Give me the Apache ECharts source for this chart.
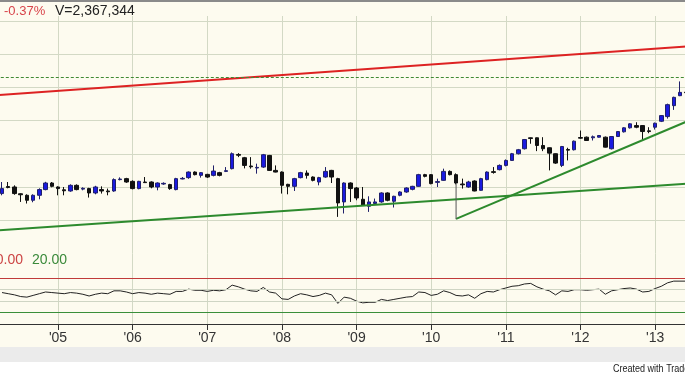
<!DOCTYPE html>
<html><head><meta charset="utf-8">
<script src="https://cdn.jsdelivr.net/npm/echarts@6/dist/echarts.min.js"></script>
<style>html,body{margin:0;padding:0;background:#fff;overflow:hidden;width:685px;height:375px}
#c{position:absolute;left:-5px;top:0;width:692px;height:375px}</style>
</head><body><div id="c"></div><script>
// Monthly categories: Mar 2004 .. Jun 2013 (first category is an empty lead-in)
const firstYear = 2004, firstMonth = 3, monthCount = 112;
const months = [];
for (let k = 0; k < monthCount; k++) {
  const m = firstMonth - 1 + k;
  months.push((firstYear + Math.floor(m / 12)) + '-' + String(m % 12 + 1).padStart(2, '0'));
}
// OHLC values from Apr 2004 to Jun 2013
const opens = [34.01,35.07,35.00,33.98,33.75,33.00,33.75,34.61,35.60,
 35.00,34.58,34.40,35.25,34.68,34.76,34.10,34.61,34.40,34.40,36.11,36.26,
 35.85,34.76,35.75,35.75,35.00,35.45,35.36,34.61,36.21,36.41,37.25,36.75,
 36.90,36.75,37.16,37.35,37.76,39.90,39.41,38.16,37.86,38.00,39.75,37.50,
 37.25,35.40,35.10,36.41,37.10,36.50,35.75,36.50,37.50,36.26,32.75,35.60,
 34.85,33.15,32.10,32.51,32.75,34.10,32.85,33.75,34.25,34.65,35.10,36.86,
 36.86,35.70,36.00,37.35,36.86,35.45,35.00,35.90,34.50,36.11,37.31,37.61,
 38.25,39.00,40.01,40.76,42.41,42.41,41.25,40.91,40.01,38.25,40.65,40.61,
 42.45,42.50,42.41,42.50,42.50,40.76,42.60,43.31,43.91,44.25,44.25,43.46,
 44.00,44.90,45.60,47.25,48.75,49.28];
const closes = [34.76,34.92,34.01,33.83,33.00,33.75,34.61,35.60,35.10,
 34.76,34.43,35.25,34.61,34.80,34.10,35.00,34.40,34.28,36.11,36.20,35.75,
 34.76,35.85,35.66,35.00,35.60,35.55,34.76,36.26,36.30,37.25,36.86,37.16,
 36.50,37.40,36.75,37.46,40.01,39.78,38.25,38.04,37.95,39.86,37.50,37.25,
 35.25,35.10,36.26,37.16,36.75,36.00,36.41,37.35,36.50,32.60,35.60,34.76,
 33.35,32.25,32.75,32.75,34.10,33.00,33.60,34.25,34.85,35.10,36.86,36.60,
 35.51,35.81,37.35,36.86,35.60,35.33,35.75,34.40,36.26,37.25,37.20,38.25,
 39.00,40.01,40.61,42.15,42.30,41.25,40.76,40.10,38.60,41.10,40.55,41.90,
 42.35,42.00,42.56,42.75,41.00,42.60,43.35,43.91,44.51,44.00,43.35,43.35,
 44.60,45.75,47.40,48.50,49.25,49.20];
const lows = [33.75,34.80,33.83,32.75,32.51,32.70,33.15,34.50,34.95,
 33.75,33.75,34.28,34.50,34.50,33.41,33.90,34.01,33.75,34.28,36.00,35.63,
 34.65,34.65,35.60,34.80,34.50,35.33,34.58,34.50,36.15,36.23,36.75,36.41,
 36.38,36.60,36.60,37.25,37.65,39.50,37.80,37.76,37.01,37.88,37.43,37.20,
 34.01,33.90,34.40,36.30,36.26,35.85,35.25,36.38,35.60,30.50,31.01,32.75,
 33.00,32.18,31.25,32.40,32.63,32.85,31.91,33.60,34.13,34.50,35.03,36.45,
 35.40,35.00,35.93,36.75,35.40,34.76,34.88,34.35,34.43,36.00,37.01,37.50,
 38.10,38.93,39.90,40.65,41.51,40.40,40.40,37.50,38.48,38.00,39.00,40.50,
 42.26,41.93,42.00,42.45,40.95,40.65,42.53,43.20,43.80,43.85,42.00,43.10,
 43.65,44.78,45.30,46.61,48.68,49.15];
const highs = [35.75,35.75,35.25,34.05,33.90,33.90,34.80,35.78,35.75,
 35.10,35.00,35.40,35.40,34.95,34.88,35.18,35.10,34.76,36.30,36.45,36.38,
 36.00,35.93,36.50,35.85,35.70,35.70,35.48,36.38,36.50,37.35,37.35,37.25,
 36.98,38.25,37.28,38.00,40.20,40.10,39.53,39.50,38.51,39.98,39.83,38.25,
 37.35,35.48,36.38,37.28,37.50,36.60,36.53,38.00,37.58,36.38,35.70,35.70,
 35.00,35.00,33.60,33.26,34.20,34.20,33.68,34.35,34.95,35.18,36.98,36.98,
 36.95,36.26,37.76,37.50,37.05,36.26,35.93,36.00,36.38,37.35,38.00,38.40,
 39.15,40.13,40.73,42.23,42.45,42.45,42.50,40.95,40.05,41.18,40.91,42.00,
 43.50,42.60,42.75,42.83,42.60,42.68,43.43,44.00,44.60,44.75,44.33,44.00,
 44.70,45.83,47.55,48.60,50.90,49.32];
// Oscillator (RSI-like) from Apr 2004 to Jun 2013
const rsi = [55,53,51,48,47,50,53,56,55,
 54,53,55,54,52,49,52,54,53,58,58,56,
 53,55,54,52,54,53,52,57,57,61,59,59,
 57,59,58,60,68,65,61,58,57,64,56,54,
 44,43,49,53,51,48,50,54,51,36,47,45,
 40,37,38,38,43,41,43,45,47,48,56,55,
 50,52,58,55,50,49,51,45,53,57,56,60,
 63,66,67,70,71,65,61,58,51,58,57,60,
 60,59,60,61,52,58,60,62,63,61,56,57,
 62,66,72,75,75,75];
// Drawn lines (month, price)
const redLine = [['2004-03', 48.81], ['2013-06', 56.15]];
const greenLongLine = [['2004-03', 28.46], ['2013-06', 35.50]];
const greenShortLine = [['2010-05', 30.19], ['2013-06', 44.82]];
const anchorLine = [['2010-05', 30.15], ['2010-05', 35.55]];
const dashedLevel = 51.53;
const oscLevels = {upper: 80, mid1: 60, mid2: 40, lower: 20};

const candleData = [null].concat(opens.map((o, i) => [o, closes[i], lows[i], highs[i]]))
  .map(d => d === null ? '-' : d);
const rsiData = ['-'].concat(rsi);

const cream = '#fdfbef';
const gridColor = '#d3d9c5';
const isJan = (idx, v) => String(v).slice(5) === '01';
const FONT = '"Liberation Sans", Arial, sans-serif';
const OX = 5; // the canvas starts 5px left of the page

const chart = echarts.init(document.getElementById('c'), null, {renderer: 'canvas'});
chart.setOption({
  backgroundColor: cream,
  animation: false,
  grid: [
    {left: 0.8, right: 0.8, top: 16, height: 237.4},
    {left: 0.8, right: 0.8, top: 253.4, height: 70.6}
  ],
  xAxis: [
    {type: 'category', gridIndex: 0, data: months, boundaryGap: false,
     axisLine: {show: false}, axisTick: {show: false}, axisLabel: {show: false},
     splitLine: {show: true, interval: isJan, lineStyle: {color: gridColor, width: 1}}},
    {type: 'category', gridIndex: 1, data: months, boundaryGap: false,
     axisLine: {show: true, lineStyle: {color: '#333', width: 1}},
     axisTick: {show: true, interval: isJan, length: 6, lineStyle: {color: '#333'}},
     axisLabel: {show: true, interval: isJan, margin: 7, color: '#333', fontSize: 14, fontFamily: FONT,
                 formatter: v => "'" + v.slice(2, 4)},
     splitLine: {show: true, interval: isJan, lineStyle: {color: gridColor, width: 1}}}
  ],
  yAxis: [
    {type: 'value', gridIndex: 0, min: 25, max: 60.75, interval: 5,
     axisLine: {show: false}, axisTick: {show: false}, axisLabel: {show: false},
     splitLine: {show: true, showMinLine: false, showMaxLine: false, lineStyle: {color: gridColor, width: 1}}},
    {type: 'value', gridIndex: 1, min: 0, max: 123.5,
     axisLine: {show: false}, axisTick: {show: false}, axisLabel: {show: false}, splitLine: {show: false}}
  ],
  series: [
    {type: 'candlestick', xAxisIndex: 0, yAxisIndex: 0, data: candleData, barWidth: 4,
     itemStyle: {color: '#1a1ae0', color0: '#111111', borderColor: '#20206a', borderColor0: '#111111', borderWidth: 1},
     markLine: {silent: true, symbol: 'none', label: {show: false},
       lineStyle: {type: [3, 2], color: '#3f8a33', width: 1},
       data: [{yAxis: dashedLevel}]}},
    {type: 'line', xAxisIndex: 0, yAxisIndex: 0, data: redLine, showSymbol: false, silent: true,
     lineStyle: {color: '#dd2222', width: 2}},
    {type: 'line', xAxisIndex: 0, yAxisIndex: 0, data: greenLongLine, showSymbol: false, silent: true,
     lineStyle: {color: '#2d8a2d', width: 2}},
    {type: 'line', xAxisIndex: 0, yAxisIndex: 0, data: greenShortLine, showSymbol: false, silent: true,
     lineStyle: {color: '#2d8a2d', width: 2}},
    {type: 'line', xAxisIndex: 0, yAxisIndex: 0, data: anchorLine, showSymbol: false, silent: true,
     lineStyle: {color: '#555', width: 1}},
    {type: 'line', xAxisIndex: 1, yAxisIndex: 1, data: rsiData, showSymbol: false, silent: true,
     lineStyle: {color: '#222', width: 1},
     markLine: {silent: true, symbol: 'none', label: {show: false},
       data: [
         {yAxis: oscLevels.upper, lineStyle: {color: '#c03a3a', width: 1, type: 'solid'}},
         {yAxis: oscLevels.mid1, lineStyle: {color: '#cfd5c4', width: 1, type: 'solid'}},
         {yAxis: oscLevels.mid2, lineStyle: {color: '#cfd5c4', width: 1, type: 'solid'}},
         {yAxis: oscLevels.lower, lineStyle: {color: '#3a8f3a', width: 1, type: 'solid'}}
       ]}}
  ],
  graphic: [
    {type: 'rect', left: 0, top: 0, shape: {width: 692, height: 2}, style: {fill: '#8a8a8a'}, z: 100},
    {type: 'text', x: OX + 4, y: 11, style: {text: '-0.37%', fill: '#d8444a', font: '13px ' + FONT, textVerticalAlign: 'middle'}, z: 100},
    {type: 'text', x: OX + 55, y: 11, style: {text: 'V=2,367,344', fill: '#222', font: '14px ' + FONT, textVerticalAlign: 'middle'}, z: 100},
    {type: 'text', x: OX - 12, y: 260, style: {text: '80.00', fill: '#cc4444', font: '14px ' + FONT, textVerticalAlign: 'middle'}, z: 100},
    {type: 'text', x: OX + 32, y: 260, style: {text: '20.00', fill: '#3a8a3a', font: '14px ' + FONT, textVerticalAlign: 'middle'}, z: 100},
    {type: 'rect', left: 0, top: 347, shape: {width: 692, height: 15}, style: {fill: '#ebebeb'}, z: 100},
    {type: 'rect', left: 0, top: 362, shape: {width: 692, height: 13}, style: {fill: '#ffffff'}, z: 100},
    {type: 'text', x: OX + 613, y: 369, scaleX: 0.82, style: {text: 'Created with TradeStation', fill: '#222', font: '11px ' + FONT, textVerticalAlign: 'middle'}, z: 100}
  ]
});
</script></body></html>
